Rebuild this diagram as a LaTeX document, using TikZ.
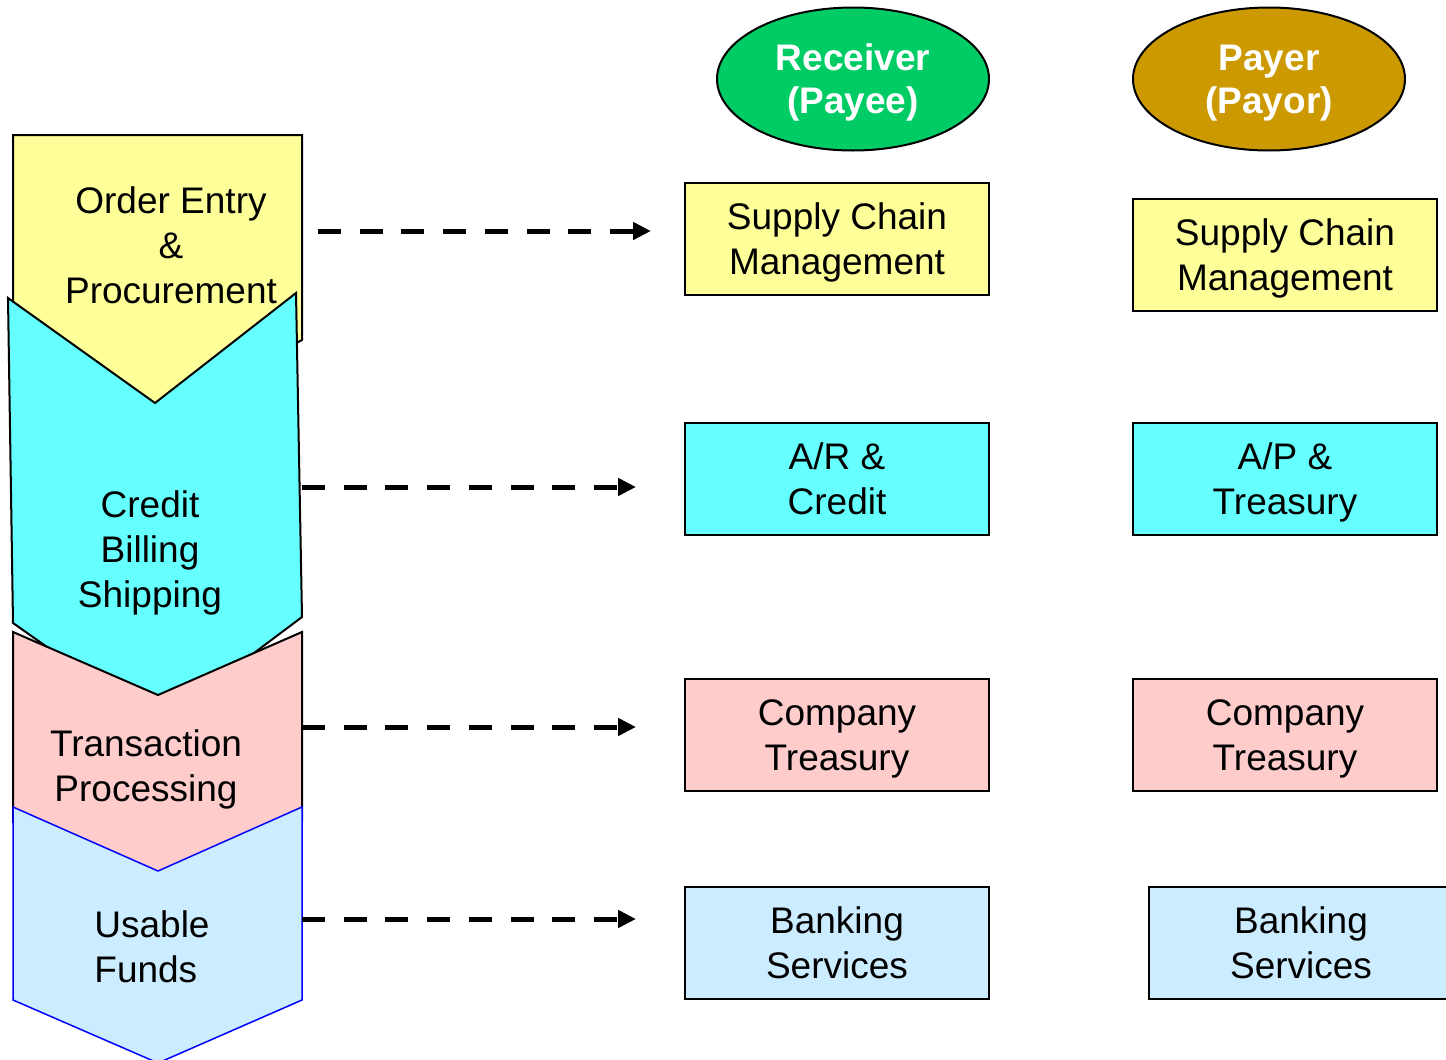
\documentclass[tikz,border=0pt]{standalone}
\usepackage{fontspec}
\setmainfont{Liberation Sans}
\usetikzlibrary{positioning,arrows.meta,shapes.geometric}
\definecolor{stageyellow}{HTML}{FFFF99}
\definecolor{stagecyan}{HTML}{66FFFF}
\definecolor{stagepink}{HTML}{FFCCCC}
\definecolor{stagesky}{HTML}{CCECFF}
\definecolor{payeegreen}{HTML}{00CC66}
\definecolor{payergold}{HTML}{CC9900}

\begin{document}
\begin{tikzpicture}[x=1pt, y=-1pt, every node/.style={font=\fontsize{37}{45}\selectfont}]
  \tikzset{
    stage/.style={draw, line width=2pt, line join=miter},
    unit/.style={draw, line width=2pt, minimum width=304pt, minimum height=112pt, align=center, inner sep=0pt, text depth=-4pt},
    party/.style={ellipse, draw, line width=2pt, minimum width=272pt, minimum height=143pt, align=center, text depth=-4pt, text=white, font=\fontsize{37}{43}\selectfont\bfseries},
    flow/.style={line width=5pt, dash pattern=on 23pt off 18.7pt, -{Triangle[length=18pt,width=17pt]}}
  }
  \useasboundingbox (0,0) rectangle (1446,1060);
  \clip (0,0) rectangle (1446,1060);

  % Left column of stages (drawn top to bottom so each overlaps the one above)
  \draw[stage, fill=stageyellow] (13,135) -- (302,135) -- (302,340) -- (155,420) -- (13,340) -- cycle;
  \draw[stage, fill=stagecyan]   (8,298) -- (155,403) -- (296,293) -- (302,617) -- (158,725) -- (13,623) -- cycle;
  \draw[stage, fill=stagepink]   (13,632) -- (158,695) -- (302,632) -- (302,822) -- (158,885) -- (13,822) -- cycle;
  \draw[stage, draw=blue, line width=1.5pt, fill=stagesky] (13,807) -- (158,871) -- (302,807) -- (302,1000) -- (158,1063) -- (13,1000) -- cycle;

  \node[align=center] (order)    at (171,245) {Order Entry\\\&\\Procurement};
  \node[align=center] (credit)   at (150,553) {Credit\\Billing\\Shipping};
  \node[align=center] (transact) at (146,769) {Transaction\\Processing};
  \node[align=left]   (funds)    at (152,947) {Usable\\Funds};

  \coordinate (orderR)    at (318,231);
  \coordinate (creditR)   at (302,487);
  \coordinate (transactR) at (302,727);
  \coordinate (fundsR)    at (302,919);

  % Parties
  \node[party, fill=payeegreen] (payee) at (853,79)  {Receiver\\(Payee)};
  \node[party, fill=payergold]  (payer) at (1269,79) {Payer\\(Payor)};

  % Receiver side
  \node[unit, fill=stageyellow] (rSCM)  at (837,239) {Supply Chain\\Management};
  \node[unit, fill=stagecyan]   (rAR)   at (837,479) {A/R \&\\Credit};
  \node[unit, fill=stagepink]   (rTreas) at (837,735) {Company\\Treasury};
  \node[unit, fill=stagesky]    (rBank) at (837,943) {Banking\\Services};

  % Payer side
  \node[unit, fill=stageyellow] (pSCM)  at (1285,255) {Supply Chain\\Management};
  \node[unit, fill=stagecyan]   (pAP)   at (1285,479) {A/P \&\\Treasury};
  \node[unit, fill=stagepink]   (pTreas) at (1285,735) {Company\\Treasury};
  \node[unit, fill=stagesky]    (pBank) at (1301,943) {Banking\\Services};

  % Stage to receiver links
  \draw[flow, shorten >=33pt] (orderR) -- (orderR -| rSCM.west);
  \draw[flow, shorten >=48pt] (creditR) -- (creditR -| rAR.west);
  \draw[flow, shorten >=48pt] (transactR) -- (transactR -| rTreas.west);
  \draw[flow, shorten >=48pt] (fundsR) -- (fundsR -| rBank.west);
\end{tikzpicture}
\end{document}
